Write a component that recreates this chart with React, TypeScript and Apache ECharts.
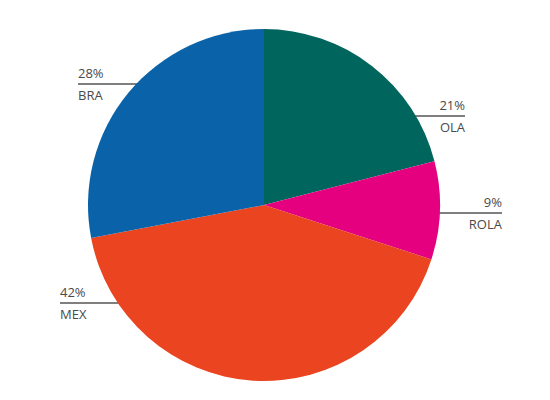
import React, { useEffect, useRef } from "react";
import * as echarts from "echarts";

const categories = ["OLA", "ROLA", "MEX", "BRA"];
const shares = [21, 9, 42, 28];
const colors = ["#00655d", "#e4007f", "#ea4520", "#0a63a8"];

// label layout (pixels): y of the leader line and the outer end of the line
const labelLineY = [116, 213, 303, 84];
const labelLineOuterX = [465, 502, 60, 78];

const CX = 264;
const CY = 205;
const R = 176;

export default function App() {
  const ref = useRef<HTMLDivElement>(null);
  useEffect(() => {
    document.body.style.margin = "0";
    const chart = echarts.init(ref.current!, null, { renderer: "svg" });
    chart.setOption({
      animation: false,
      backgroundColor: "#ffffff",
      series: [
        {
          type: "pie",
          center: [CX, CY],
          radius: [0, R],
          startAngle: 90,
          clockwise: true,
          data: categories.map((c, i) => ({
            name: c,
            value: shares[i],
            itemStyle: { color: colors[i] },
          })),
          label: {
            show: true,
            formatter: (p: any) => `{p|${p.value}%}\n{n|${p.name}}`,
            rich: {
              p: { fontSize: 13, color: "#4a4a4a", lineHeight: 22, fontFamily: "Open Sans, sans-serif" },
              n: { fontSize: 13, color: "#4a4a4a", lineHeight: 22, fontFamily: "Open Sans, sans-serif" },
            },
          },
          labelLine: {
            show: true,
            lineStyle: { color: "#555", width: 1.5 },
          },
          labelLayout: (params: any) => {
            const i = params.dataIndex;
            const y = labelLineY[i];
            const outer = labelLineOuterX[i];
            const dy = y - CY;
            const dx = Math.sqrt(Math.max(0, R * R - dy * dy));
            const right = outer > CX;
            const edgeX = right ? CX + dx - 1 : CX - dx + 1;
            return {
              x: outer,
              y: y,
              align: right ? "right" : "left",
              verticalAlign: "middle",
              labelLinePoints: [
                [edgeX, y],
                [edgeX, y],
                [outer, y],
              ],
            };
          },
        },
      ],
    });
    return () => chart.dispose();
  }, []);
  return <div ref={ref} style={{ width: 550, height: 400 }} />;
}
